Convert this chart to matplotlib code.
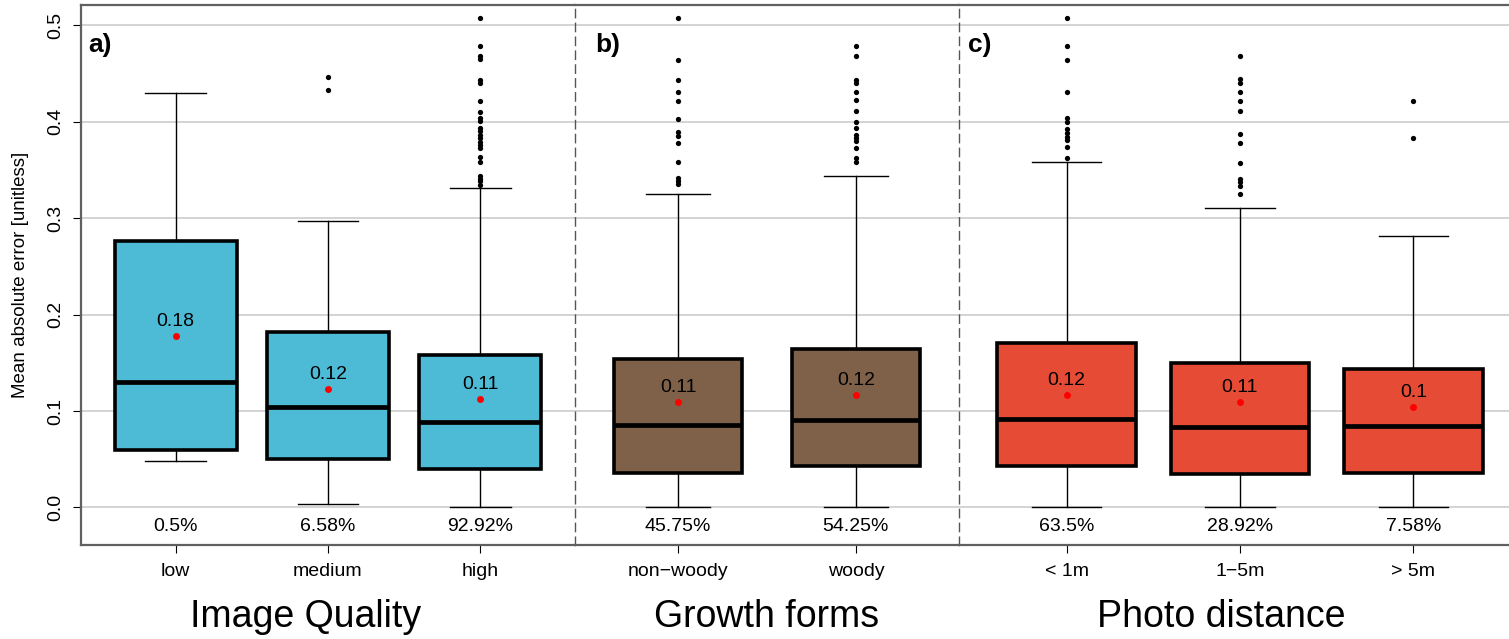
import matplotlib.pyplot as plt
import matplotlib.transforms as mtransforms

plt.rcParams['font.family'] = ['Liberation Sans', 'DejaVu Sans']

# a) image quality
quality = ['low', 'medium', 'high']
quality_pct = [0.5, 6.58, 92.92]
quality_lo = [0.048, 0.003, 0.0]
quality_q1 = [0.060, 0.050, 0.040]
quality_med = [0.130, 0.104, 0.089]
quality_q3 = [0.276, 0.182, 0.158]
quality_hi = [0.430, 0.297, 0.331]
quality_mean = [0.178, 0.123, 0.112]
quality_out = [
    [],
    [0.446, 0.433],
    [0.508, 0.478, 0.468, 0.465, 0.443, 0.440, 0.421, 0.410, 0.404, 0.401,
     0.393, 0.390, 0.386, 0.383, 0.379, 0.376, 0.373, 0.363, 0.358, 0.344,
     0.341, 0.338, 0.334],
]

# b) growth forms
growth = ['non\u2212woody', 'woody']
growth_pct = [45.75, 54.25]
growth_lo = [0.0, 0.0]
growth_q1 = [0.036, 0.043]
growth_med = [0.085, 0.091]
growth_q3 = [0.154, 0.164]
growth_hi = [0.325, 0.344]
growth_mean = [0.109, 0.117]
growth_out = [
    [0.508, 0.464, 0.443, 0.431, 0.421, 0.403, 0.389, 0.385, 0.378, 0.358,
     0.342, 0.338, 0.335],
    [0.478, 0.468, 0.443, 0.440, 0.431, 0.422, 0.411, 0.400, 0.393, 0.386,
     0.383, 0.380, 0.373, 0.362, 0.358],
]

# c) photo distance
distance = ['< 1m', '1\u22125m', '> 5m']
distance_pct = [63.5, 28.92, 7.58]
distance_lo = [0.0, 0.0, 0.0]
distance_q1 = [0.043, 0.035, 0.036]
distance_med = [0.092, 0.083, 0.084]
distance_q3 = [0.170, 0.150, 0.144]
distance_hi = [0.358, 0.311, 0.281]
distance_mean = [0.117, 0.109, 0.104]
distance_out = [
    [0.508, 0.478, 0.464, 0.431, 0.404, 0.400, 0.392, 0.388, 0.384, 0.381,
     0.374, 0.362],
    [0.468, 0.444, 0.440, 0.431, 0.421, 0.411, 0.387, 0.378, 0.357, 0.341,
     0.337, 0.333, 0.325],
    [0.421, 0.383],
]

yticks = [0.0, 0.1, 0.2, 0.3, 0.4, 0.5]

W, H = 1509, 639
fig = plt.figure(figsize=(W / 100, H / 100), dpi=100)


def px_axes(left, width, top=5, bottom=545):
    return fig.add_axes([left / W, 1 - bottom / H, width / W, (bottom - top) / H])


def panel(ax, labels, pct, lo, q1, med, q3, hi, means, out, color, width,
          letter, letter_x, title, title_x):
    pos = list(range(1, len(labels) + 1))
    stats = [dict(whislo=lo[i], q1=q1[i], med=med[i], q3=q3[i], whishi=hi[i],
                  fliers=out[i]) for i in range(len(labels))]
    ax.bxp(stats, positions=pos, widths=width, capwidths=width / 2,
           patch_artist=True, showfliers=True,
           boxprops=dict(facecolor=color, edgecolor='black', linewidth=2.6),
           medianprops=dict(color='black', linewidth=3.4, solid_capstyle='butt'),
           whiskerprops=dict(color='black', linewidth=1.0),
           capprops=dict(color='black', linewidth=1.0),
           flierprops=dict(marker='o', markersize=3.8, markerfacecolor='black',
                           markeredgecolor='none'))
    ax.plot(pos, means, 'o', color='red', ms=5, mec='none', zorder=5)
    for p, m in zip(pos, means):
        ax.text(p, m + 0.015, f'{round(m, 2):g}', ha='center', va='center',
                fontsize=14, zorder=6)
    for p, v in zip(pos, pct):
        ax.text(p, -0.02, f'{v:g}%', ha='center', va='center', fontsize=14)

    n = len(labels)
    pad = 0.04 * n
    ax.set_xlim(0.5 - pad, n + 0.5 + pad)
    ax.set_ylim(-0.039, 0.521)
    ax.set_xticks(pos, labels)
    ax.set_yticks(yticks)
    ax.yaxis.grid(True, color='#cccccc', linewidth=1.2)
    ax.set_axisbelow(True)
    ax.tick_params(axis='x', length=5.8, width=0.8, labelsize=14, pad=7)

    for side in ['top', 'bottom', 'left']:
        ax.spines[side].set_color('#606060')
        ax.spines[side].set_linewidth(1.6)
    ax.spines['right'].set_visible(False)

    ax.text(letter_x, 0.926, letter, transform=ax.transAxes, fontsize=19,
            fontweight='bold', va='center', ha='left')
    trans = mtransforms.blended_transform_factory(ax.transAxes, fig.transFigure)
    ax.text(title_x, 1 - 617 / H, title, transform=trans, fontsize=27,
            ha='center', va='center')


ax_a = px_axes(81, 494)
ax_b = px_axes(575, 384)
ax_c = px_axes(959, 562)

panel(ax_a, quality, quality_pct, quality_lo, quality_q1, quality_med,
      quality_q3, quality_hi, quality_mean, quality_out, '#4DBBD5', 0.8,
      'a)', 0.014, 'Image Quality', 0.455)
panel(ax_b, growth, growth_pct, growth_lo, growth_q1, growth_med,
      growth_q3, growth_hi, growth_mean, growth_out, '#7E6148', 0.72,
      'b)', 0.052, 'Growth forms', 0.5)
panel(ax_c, distance, distance_pct, distance_lo, distance_q1, distance_med,
      distance_q3, distance_hi, distance_mean, distance_out, '#E64B35', 0.8,
      'c)', 0.016, 'Photo distance', 0.467)

ax_a.set_yticklabels([f'{t:.1f}' for t in yticks], rotation=90, va='center',
                     fontsize=14)
ax_a.tick_params(axis='y', length=5.8, width=0.8, pad=6)

for ax in (ax_b, ax_c):
    ax.tick_params(axis='y', left=False, labelleft=False)
    ax.spines['left'].set_color('#555555')
    ax.spines['left'].set_linewidth(1.0)
    ax.spines['left'].set_linestyle((0, (6, 4)))

fig.text(21 / W, 1 - 275 / H, 'Mean absolute error [unitless]', rotation=90,
         ha='center', va='center', fontsize=13.5)

fig.savefig('out.png', dpi=100)
